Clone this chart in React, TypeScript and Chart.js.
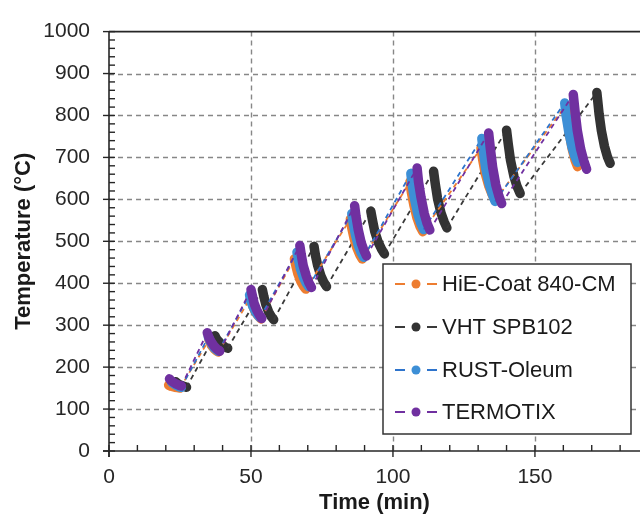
import React, { useEffect, useRef } from 'react';
import { Chart, registerables } from 'chart.js';

Chart.register(...registerables);

// ---------- DATA ----------
const seriesNames = ['HiE-Coat 840-CM', 'VHT SPB102', 'RUST-Oleum', 'TERMOTIX'];

const hieTime = [
  21.0, 21.5, 22.2, 23.2, 24.1, 25.0,
  35.2, 35.6, 36.2, 37.0, 37.8, 38.5,
  49.8, 50.2, 50.9, 51.8, 52.7, 53.5,
  65.3, 65.8, 66.5, 67.5, 68.4, 69.3,
  85.0, 85.5, 86.3, 87.3, 88.3, 89.2,
  106.0, 106.5, 107.4, 108.5, 109.5, 110.5,
  131.0, 131.6, 132.5, 133.8, 134.9, 136.0,
  161.0, 161.5, 162.2, 163.2, 164.1, 165.0,
];
const hieTemp = [
  157, 155, 154, 152, 151, 150,
  265, 259, 251, 244, 239, 236,
  365, 354, 341, 329, 321, 315,
  458, 442, 423, 405, 394, 386,
  553, 532, 507, 484, 468, 458,
  642, 616, 585, 555, 536, 523,
  722, 695, 662, 631, 612, 598,
  825, 793, 754, 718, 694, 678,
];

const vhtTime = [
  23.5, 24.0, 24.6, 25.6, 26.5, 27.3,
  37.3, 37.8, 38.7, 39.8, 40.8, 41.8,
  54.0, 54.5, 55.2, 56.2, 57.1, 58.0,
  72.2, 72.7, 73.5, 74.6, 75.6, 76.6,
  92.2, 92.8, 93.6, 94.8, 96.0, 97.0,
  114.3, 114.9, 115.7, 116.9, 118.0, 119.0,
  140.0, 140.6, 141.4, 142.6, 143.7, 144.8,
  171.8, 172.1, 172.6, 173.4, 174.5, 175.5, 176.5,
];
const vhtTemp = [
  165, 162, 159, 156, 154, 152,
  275, 268, 261, 253, 248, 245,
  385, 369, 350, 332, 321, 313,
  488, 467, 442, 418, 403, 392,
  572, 550, 523, 498, 481, 470,
  667, 637, 602, 568, 547, 532,
  765, 732, 693, 655, 631, 614,
  855, 836, 803, 764, 726, 702, 686,
];

const rustTime = [
  22.0, 22.4, 23.1, 23.9, 24.7, 25.5,
  35.0, 35.4, 36.1, 36.9, 37.7, 38.5,
  49.5, 49.9, 50.6, 51.5, 52.4, 53.2,
  66.2, 66.7, 67.4, 68.5, 69.4, 70.3,
  85.5, 86.0, 86.8, 87.8, 88.8, 89.7,
  106.3, 106.8, 107.7, 108.8, 109.8, 110.8,
  131.3, 131.9, 132.7, 133.9, 135.0, 136.0,
  160.5, 161.0, 161.9, 163.0, 164.0, 165.0,
];
const rustTemp = [
  165, 162, 159, 156, 153, 152,
  272, 265, 256, 247, 242, 238,
  372, 360, 346, 333, 324, 318,
  474, 456, 435, 414, 401, 392,
  566, 543, 516, 490, 473, 462,
  662, 633, 598, 564, 543, 528,
  745, 712, 673, 636, 612, 595,
  830, 799, 762, 726, 704, 688,
];

const termoTime = [
  21.3, 21.8, 22.6, 23.6, 24.6, 25.5,
  34.6, 35.1, 35.9, 37.0, 38.0, 39.0,
  50.0, 50.5, 51.1, 52.1, 53.0, 53.8,
  67.2, 67.7, 68.4, 69.5, 70.4, 71.3,
  86.5, 87.0, 87.8, 88.8, 89.8, 90.7,
  108.5, 109.0, 109.9, 111.0, 112.0, 113.0,
  133.7, 134.3, 135.1, 136.2, 137.3, 138.3,
  163.5, 164.1, 164.9, 166.1, 167.2, 168.2,
];
const termoTemp = [
  172, 168, 164, 160, 157, 155,
  282, 272, 261, 250, 243, 238,
  385, 370, 352, 335, 324, 316,
  490, 468, 442, 417, 401, 390,
  585, 559, 527, 497, 478, 465,
  675, 642, 604, 567, 543, 527,
  758, 721, 677, 635, 608, 590,
  850, 811, 765, 720, 692, 672,
];

const xTickValues = [0, 50, 100, 150];
const yTickValues = [0, 100, 200, 300, 400, 500, 600, 700, 800, 900, 1000];

// ---------- STYLE ----------
const markerColors = ['#ED7D31', '#333333', '#3D8FD6', '#7030A0'];
const lineColors = ['#ED7D31', '#3a3a3a', '#2E74CC', '#7030A0'];
const drawOrder = [2, 3, 1, 0];
const FONT = '"Liberation Sans", Arial, Helvetica, sans-serif';

const seriesTimes = [hieTime, vhtTime, rustTime, termoTime];
const seriesTemps = [hieTemp, vhtTemp, rustTemp, termoTemp];

const rising = (c: any) => c.p1.parsed.y > c.p0.parsed.y;

const axesPlugin = {
  id: 'axesDeco',
  beforeDatasetsDraw(chart: any) {
    const { ctx, chartArea: a, scales } = chart;
    const x = scales.x;
    const y = scales.y;
    ctx.save();
    ctx.strokeStyle = '#878787';
    ctx.lineWidth = 1.4;
    ctx.setLineDash([5, 4]);
    for (const v of xTickValues) {
      if (v === 0) continue;
      const px = Math.round(x.getPixelForValue(v)) + 0.5;
      ctx.beginPath();
      ctx.moveTo(px, a.top);
      ctx.lineTo(px, a.bottom);
      ctx.stroke();
    }
    for (const v of yTickValues) {
      if (v === 0 || v === 1000) continue;
      const py = Math.round(y.getPixelForValue(v)) + 0.5;
      ctx.beginPath();
      ctx.moveTo(a.left, py);
      ctx.lineTo(a.right, py);
      ctx.stroke();
    }
    ctx.restore();
  },
  afterDatasetsDraw(chart: any) {
    const { ctx, chartArea: a, scales } = chart;
    const x = scales.x;
    const y = scales.y;
    ctx.save();
    ctx.setLineDash([]);
    ctx.strokeStyle = '#262626';
    ctx.lineWidth = 1.6;
    const seg = (x1: number, y1: number, x2: number, y2: number) => {
      ctx.beginPath();
      ctx.moveTo(x1, y1);
      ctx.lineTo(x2, y2);
      ctx.stroke();
    };
    seg(a.left, a.top, a.right, a.top);
    seg(a.left, a.top, a.left, a.bottom + 6);
    seg(a.left - 6, a.bottom, a.right, a.bottom);
    ctx.lineWidth = 1.4;
    for (let v = 0; v <= 1000; v += 20) {
      const py = y.getPixelForValue(v);
      if (v % 100 === 0) seg(a.left - 6, py, a.left + 6, py);
      else seg(a.left, py, a.left + 6, py);
    }
    for (let v = 0; v <= 185; v += 10) {
      const px = x.getPixelForValue(v);
      if (v % 50 === 0) seg(px, a.bottom - 6, px, a.bottom + 6);
      else seg(px, a.bottom - 6, px, a.bottom);
    }
    ctx.restore();
  },
  afterDraw(chart: any) {
    const ctx = chart.ctx;
    ctx.save();
    const bx = 383, by = 264, bw = 248, bh = 170;
    ctx.fillStyle = '#ffffff';
    ctx.fillRect(bx, by, bw, bh);
    ctx.strokeStyle = '#333333';
    ctx.lineWidth = 1.5;
    ctx.strokeRect(bx, by, bw, bh);
    const rows = [284, 327, 370, 412];
    ctx.font = `22px ${FONT}`;
    ctx.textBaseline = 'middle';
    ctx.textAlign = 'left';
    seriesNames.forEach((name, i) => {
      const ry = rows[i];
      ctx.strokeStyle = lineColors[i];
      ctx.lineWidth = 2;
      ctx.beginPath();
      ctx.moveTo(395, ry);
      ctx.lineTo(405, ry);
      ctx.moveTo(427, ry);
      ctx.lineTo(437, ry);
      ctx.stroke();
      ctx.fillStyle = markerColors[i];
      ctx.beginPath();
      ctx.arc(416, ry, 4.5, 0, Math.PI * 2);
      ctx.fill();
      ctx.fillStyle = '#1a1a1a';
      ctx.fillText(name, 442, ry + 1);
    });
    ctx.restore();
  },
};

export default function App() {
  const canvasRef = useRef<HTMLCanvasElement | null>(null);

  useEffect(() => {
    if (!canvasRef.current) return;
    const datasets = seriesNames.map((name, i) => ({
      label: name,
      data: seriesTimes[i].map((t, k) => ({ x: t, y: seriesTemps[i][k] })),
      borderColor: markerColors[i],
      borderWidth: 2,
      borderJoinStyle: 'round' as const,
      pointRadius: 0,
      pointHoverRadius: 0,
      order: drawOrder[i],
      segment: {
        borderWidth: (c: any) => (rising(c) ? 1.8 : 9.5),
        borderDash: (c: any) => (rising(c) ? [5, 4] : []),
        borderCapStyle: (c: any) => (rising(c) ? 'butt' : 'round'),
        borderColor: (c: any) => (rising(c) ? lineColors[i] : markerColors[i]),
      },
    }));

    const chart = new Chart(canvasRef.current, {
      type: 'line',
      data: { datasets },
      plugins: [axesPlugin],
      options: {
        responsive: false,
        animation: false,
        devicePixelRatio: 1,
        layout: { padding: { top: 24, left: 0, right: 0, bottom: 0 } },
        plugins: { legend: { display: false }, tooltip: { enabled: false } },
        scales: {
          x: {
            type: 'linear',
            min: 0,
            max: 187,
            afterBuildTicks: (s: any) => {
              s.ticks = xTickValues.map((v) => ({ value: v }));
            },
            afterFit: (s: any) => {
              s.height = 67;
            },
            grid: { display: false, drawTicks: false },
            border: { display: false },
            ticks: {
              autoSkip: false,
              maxRotation: 0,
              padding: 14,
              color: '#262626',
              font: { family: FONT, size: 21 },
              callback: (v: any) => String(v),
            },
            title: {
              display: true,
              text: 'Time (min)',
              color: '#1a1a1a',
              font: { family: FONT, size: 22, weight: 'bold' },
              padding: { top: 0, bottom: 2 },
            },
          },
          y: {
            type: 'linear',
            min: 0,
            max: 1000,
            afterBuildTicks: (s: any) => {
              s.ticks = yTickValues.map((v) => ({ value: v }));
            },
            afterFit: (s: any) => {
              s.width = 109;
            },
            grid: { display: false, drawTicks: false },
            border: { display: false },
            ticks: {
              autoSkip: false,
              padding: 19,
              color: '#262626',
              font: { family: FONT, size: 21 },
              callback: (v: any) => String(v),
            },
            title: {
              display: true,
              text: 'Temperature (°C)',
              color: '#1a1a1a',
              font: { family: FONT, size: 22, weight: 'bold' },
              padding: { top: 11, bottom: 0 },
            },
          },
        },
      } as any,
    });
    return () => chart.destroy();
  }, []);

  return (
    <div style={{ position: 'absolute', left: 0, top: 0, width: 640, height: 518, background: '#fff' }}>
      <canvas ref={canvasRef} width={640} height={518} style={{ display: 'block' }} />
    </div>
  );
}
